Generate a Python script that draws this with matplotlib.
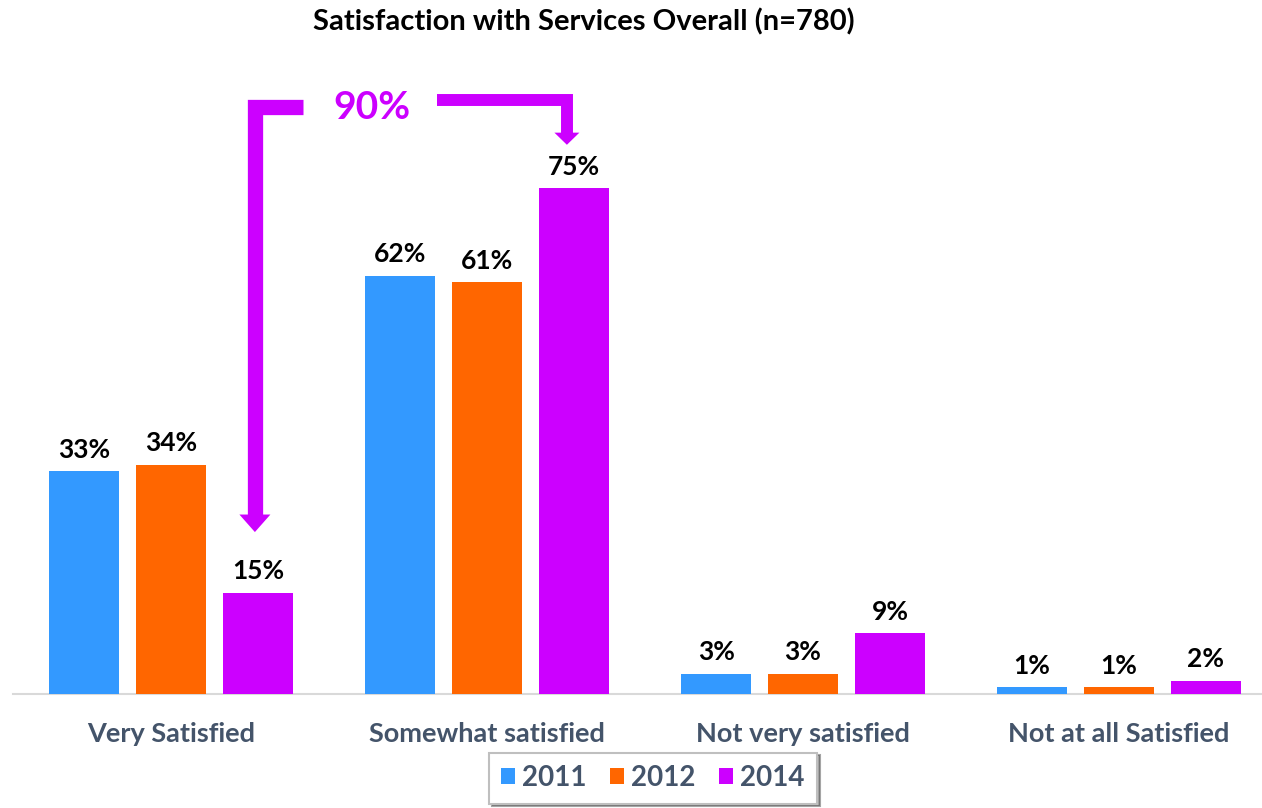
import numpy as np
import matplotlib
matplotlib.use("Agg")
import matplotlib.pyplot as plt

# data
categories = ["Very Satisfied", "Somewhat satisfied", "Not very satisfied", "Not at all Satisfied"]
years = ["2011", "2012", "2014"]
vals_2011 = [33, 62, 3, 1]
vals_2012 = [34, 61, 3, 1]
vals_2014 = [15, 75, 9, 2]
top_two_2014 = 90  # very + somewhat satisfied in 2014

colors = ["#3399FF", "#FF6600", "#CC00FF"]
label_color = "#44546A"

plt.rcParams["font.family"] = ["Lato", "DejaVu Sans"]

fig = plt.figure(figsize=(12.62, 8.08), dpi=100)
W, H = 1262, 808
base_px = 694
px_per_pct = 6.747
ax = fig.add_axes([13 / W, (H - base_px) / H, 1 - 13 / W, base_px / H])

x = np.arange(len(categories))
step = 0.275
width = 0.2215
series = [vals_2011, vals_2012, vals_2014]
for i, (vals, col, yr) in enumerate(zip(series, colors, years)):
    pos = x + (i - 1) * step
    bars = ax.bar(pos, vals, width, color=col, label=yr, zorder=3)
    for b, v in zip(bars, vals):
        ax.text(b.get_x() + b.get_width() / 2, v + 1.4, f"{v}%", ha="center", va="bottom",
                fontsize=19, fontweight="bold", color="black")

ax.set_xlim(-0.5, 3.5 - 15 / 316)
ax.set_ylim(0, base_px / px_per_pct)
for s in ["top", "right", "left"]:
    ax.spines[s].set_visible(False)
ax.spines["bottom"].set_color("#D9D9D9")
ax.spines["bottom"].set_linewidth(1.5)
ax.set_yticks([])
ax.set_xticks(x)
ax.set_xticklabels(categories, fontsize=19.5, fontweight="bold", color=label_color)
ax.tick_params(axis="x", length=0, pad=20)

# bracket arrows pointing from the 90% total to the two 2014 bars
arrow_col = colors[2]
px_x = 1 / 316  # one pixel in category units
y_top = 87.0
lx = x[0] + step - 3 * px_x
ax.plot([lx + 48 * px_x, lx, lx], [y_top, y_top, 26.4], color=arrow_col, lw=11,
        solid_joinstyle="miter", solid_capstyle="butt", zorder=4, clip_on=False)
ax.fill([lx - 15.5 * px_x, lx + 15.5 * px_x, lx], [26.6, 26.6, 24.0], color=arrow_col,
        lw=0, zorder=4)

rx = x[1] + step - 7 * px_x
ax.plot([rx - 130 * px_x, rx, rx], [88.0, 88.0, 83.0], color=arrow_col, lw=8.6,
        solid_joinstyle="miter", solid_capstyle="butt", zorder=4, clip_on=False)
ax.fill([rx - 12.5 * px_x, rx + 12.5 * px_x, rx], [83.2, 83.2, 81.4], color=arrow_col,
        lw=0, zorder=4)

ax.text(x[0] + 201 * px_x, 87.0, f"{top_two_2014}%", ha="center", va="center",
        fontsize=28, fontweight="bold", color=arrow_col)

fig.text(584 / W, 1 - 22 / H, "Satisfaction with Services Overall (n=780)", ha="center",
         va="center", fontsize=21, fontweight="bold", color="black")

leg = fig.legend(loc="center", bbox_to_anchor=(653 / W, 1 - 778 / H), ncol=3,
                 fontsize=20, frameon=True, fancybox=False, shadow=True,
                 handlelength=0.5, handleheight=0.5, handletextpad=0.25, columnspacing=0.85,
                 borderpad=0.45, borderaxespad=0)
leg.get_frame().set_edgecolor("#BFBFBF")
leg.get_frame().set_linewidth(1.5)
for t in leg.get_texts():
    t.set_color(label_color)
    t.set_fontweight("bold")

fig.savefig("out.png", dpi=100)
